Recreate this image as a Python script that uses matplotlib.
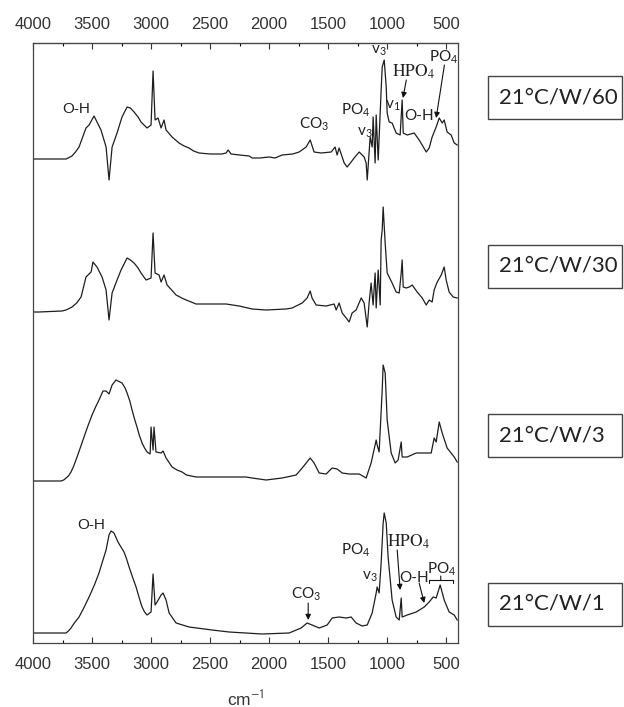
import numpy as np
import matplotlib
matplotlib.use("Agg")
import matplotlib.pyplot as plt
from matplotlib.patches import Rectangle

plt.rcParams['font.family'] = ['Liberation Sans', 'DejaVu Sans']
plt.rcParams['mathtext.fontset'] = 'custom'
plt.rcParams['mathtext.rm'] = 'Lato'
plt.rcParams['mathtext.it'] = 'Lato:italic'
plt.rcParams['mathtext.bf'] = 'Lato:bold'

# FTIR spectra, wavenumber (cm-1) and relative intensity (arbitrary units)
wn_60 = [4000, 3949, 3720, 3670, 3640, 3610, 3551, 3525, 3483, 3424, 3381, 3356, 3330, 3288, 3246, 3203,
         3175, 3144, 3110, 3085, 3034, 3000, 2983, 2966, 2941, 2915, 2890, 2873, 2822, 2763, 2720, 2678,
         2640, 2593, 2500, 2400, 2364, 2347, 2322, 2250, 2169, 2144, 2080, 2000, 1950, 1890, 1800, 1746,
         1686, 1652, 1619, 1559, 1474, 1441, 1424, 1407, 1381, 1364, 1339, 1305, 1280, 1237, 1195, 1178,
         1169, 1144, 1127, 1119, 1102, 1093, 1076, 1051, 1042, 1025, 1008, 1000, 983, 958, 924, 890,
         873, 864, 830, 771, 729, 669, 644, 619, 585, 559, 534, 517, 492, 458, 432, 407]
int_60 = [0, 0, 0, 3, 7, 12, 31, 34, 43, 29, 12, -21, 12, 26, 42, 52,
          51, 47, 42, 37, 31, 34, 88, 39, 41, 31, 39, 29, 22, 16, 13, 11,
          8, 6, 5, 5, 6, 9, 5, 4, 3, 1, 1, 2, 1, 4, 5, 7,
          12, 19, 7, 6, 7, 12, 4, 11, 2, -4, -8, -3, 1, 7, 2, -4,
          -21, 22, 12, 42, -4, 44, -1, 69, 92, 99, 72, 46, 37, 36, 26, 24,
          59, 26, 24, 26, 19, 7, 11, 22, 32, 41, 36, 39, 27, 24, 16, 14]

wn_30 = [4000, 3949, 3754, 3720, 3669, 3630, 3593, 3551, 3508, 3492, 3458, 3415, 3381, 3356, 3330, 3288,
         3254, 3203, 3175, 3144, 3110, 3085, 3042, 3000, 2983, 2966, 2932, 2915, 2890, 2864, 2788, 2740,
         2703, 2660, 2619, 2500, 2420, 2364, 2254, 2144, 2025, 1856, 1805, 1720, 1678, 1652, 1636, 1602,
         1517, 1449, 1432, 1407, 1381, 1347, 1322, 1297, 1263, 1220, 1195, 1169, 1153, 1136, 1119, 1102,
         1093, 1076, 1059, 1051, 1042, 1034, 1017, 1000, 983, 958, 924, 898, 881, 873, 864, 839,
         813, 788, 746, 703, 669, 644, 619, 602, 576, 542, 517, 500, 475, 441, 407]
int_30 = [0, 0, 1, 2, 5, 9, 15, 35, 40, 50, 45, 35, 22, -8, 19, 32,
          42, 54, 52, 49, 44, 39, 32, 34, 79, 39, 37, 30, 37, 27, 17, 14,
          12, 10, 8, 8, 8, 8, 6, 3, 2, 3, 4, 9, 14, 21, 14, 7,
          6, 8, 2, 9, -1, -6, -10, -1, 2, 14, 9, -15, 9, 29, 7, 39,
          4, 42, 7, 72, 82, 105, 69, 39, 35, 29, 20, 19, 39, 52, 25, 24,
          25, 27, 20, 14, 7, 12, 10, 22, 30, 37, 45, 32, 20, 15, 14]

wn_3 = [4000, 3763, 3740, 3720, 3700, 3678, 3655, 3627, 3600, 3568, 3535, 3500, 3470, 3441, 3407, 3381,
        3356, 3330, 3297, 3246, 3220, 3203, 3180, 3161, 3140, 3119, 3100, 3076, 3055, 3034, 3008, 3000,
        2983, 2975, 2958, 2915, 2898, 2873, 2850, 2822, 2780, 2737, 2700, 2619, 2195, 2144, 2025, 1890,
        1771, 1720, 1652, 1619, 1576, 1517, 1466, 1424, 1381, 1322, 1237, 1178, 1136, 1093, 1085, 1068,
        1042, 1034, 1017, 1000, 966, 932, 907, 881, 873, 830, 754, 627, 602, 585, 559, 534, 492, 432, 407]
int_3 = [0, 0, 1, 3, 5, 9, 15, 24, 33, 44, 55, 66, 74, 81, 90, 90,
         87, 96, 101, 98, 93, 88, 80, 71, 62, 54, 46, 38, 33, 29, 27, 54,
         31, 54, 29, 28, 30, 23, 19, 14, 11, 9, 6, 4, 4, 3, 1, 3,
         6, 13, 23, 18, 8, 7, 13, 12, 8, 7, 7, 3, 18, 41, 36, 29,
         91, 116, 108, 61, 28, 18, 21, 39, 24, 24, 28, 28, 43, 39, 59, 48, 33, 24, 19]

wn_1 = [4000, 3720, 3700, 3678, 3650, 3610, 3570, 3525, 3480, 3441, 3410, 3381, 3356, 3339, 3314, 3280,
        3260, 3229, 3210, 3186, 3160, 3127, 3100, 3076, 3055, 3034, 3000, 2983, 2966, 2949, 2915, 2898,
        2873, 2847, 2788, 2678, 2483, 2339, 2059, 1830, 1729, 1678, 1636, 1576, 1508, 1466, 1407, 1347,
        1305, 1263, 1212, 1169, 1127, 1093, 1085, 1068, 1051, 1034, 1025, 1008, 992, 958, 924, 898,
        881, 873, 830, 754, 686, 644, 610, 585, 551, 517, 475, 432, 407]
int_1 = [0, 0, 2, 5, 10, 16, 25, 36, 48, 60, 72, 83, 98, 102, 100, 91,
         87, 81, 75, 66, 57, 46, 35, 26, 21, 18, 21, 59, 28, 31, 38, 40,
         33, 20, 10, 6, 3, 1, -1, 0, 5, 10, 8, 5, 8, 15, 16, 15,
         16, 10, 7, 8, 20, 40, 46, 40, 70, 110, 120, 110, 76, 33, 16, 13,
         35, 16, 18, 21, 26, 31, 36, 35, 48, 33, 21, 18, 13]

spectra = [(wn_60, int_60), (wn_30, int_30), (wn_3, int_3), (wn_1, int_1)]
offsets = [484, 331, 162, 10]
sample_labels = ['21°C/W/60', '21°C/W/30', '21°C/W/3', '21°C/W/1']
major_ticks = [4000, 3500, 3000, 2500, 2000, 1500, 1000, 500]
minor_ticks = [3750, 3250, 2750, 2250, 1750, 1250, 750]

fig = plt.figure(figsize=(6.24, 7.07), dpi=100)
ax = fig.add_axes([33 / 624, 64 / 707, 425 / 624, 600 / 707])

for (wn, inten), off in zip(spectra, offsets):
    ax.plot(wn, np.array(inten) + off, color='#1e1e1e', lw=0.9)

ax.set_xlim(4000, 400)
ax.set_ylim(0, 600)
ax.set_yticks([])
ax.set_xticks(major_ticks)
ax.set_xticks(minor_ticks, minor=True)
ax.tick_params(axis='x', which='major', direction='in', length=4.5, width=0.8, pad=10,
               labelsize=12, colors='#333333')
ax.tick_params(axis='x', which='minor', direction='in', length=2.2, width=0.8)
for s in ax.spines.values():
    s.set_color('#444444')
    s.set_linewidth(0.9)

top = ax.secondary_xaxis('top')
top.set_xticks(major_ticks)
top.set_xticks(minor_ticks, minor=True)
top.tick_params(axis='x', which='major', direction='in', length=4.5, width=0.8, pad=8,
                labelsize=12, colors='#333333')
top.tick_params(axis='x', which='minor', direction='in', length=2.2, width=0.8)
top.spines['top'].set_color('#444444')

ax.set_xlabel('cm$^{-1}$', fontsize=12.5, color='#333333', labelpad=12, math_fontfamily='stixsans')

# peak annotations
sans = dict(fontsize=11, fontfamily='Lato', ha='center', va='center', color='#222222')
arial = dict(fontsize=11, fontfamily='Liberation Sans', ha='center', va='center', color='#222222')
serif = dict(fontsize=12.5, ha='center', va='center', color='#222222', math_fontfamily='stix')
arrow = dict(arrowstyle='-|>', color='#111111', lw=0.8, mutation_scale=8, shrinkA=0, shrinkB=0)

# top spectrum
ax.text(3636, 534, 'O-H', **arial)
ax.text(1619, 519, 'CO$_3$', **sans)
ax.text(1263, 533, 'PO$_4$', **sans)
ax.text(1186, 510, 'v$_3$', **sans)
ax.text(1068, 592, 'v$_3$', **sans)
ax.text(957, 537, 'v$_1$', **sans)
ax.text(780, 571, r'$\mathrm{HPO}_4$', **serif)
ax.annotate('', xy=(866, 545), xytext=(838, 563), arrowprops=arrow)
ax.text(729, 527, 'O-H', **sans)
ax.text(517, 586, 'PO$_4$', **sans)
ax.annotate('', xy=(585, 525), xytext=(515, 578), arrowprops=arrow)

# bottom spectrum
ax.text(3508, 118, 'O-H', **arial)
ax.text(1686, 49, 'CO$_3$', **sans)
ax.annotate('', xy=(1669, 23), xytext=(1669, 40), arrowprops=arrow)
ax.text(1263, 93, 'PO$_4$', **sans)
ax.text(1144, 66, 'v$_3$', **sans)
ax.text(822, 101, r'$\mathrm{HPO}_4$', **serif)
ax.annotate('', xy=(890, 53), xytext=(915, 93), arrowprops=arrow)
ax.text(771, 65, 'O-H', **sans)
ax.annotate('', xy=(686, 40), xytext=(729, 60), arrowprops=arrow)
ax.text(542, 74, 'PO$_4$', **sans)
ax.annotate('', xy=(546, 63), xytext=(546, 67),
            arrowprops=dict(arrowstyle='-[, widthB=0.85, lengthB=0.25', color='#111111', lw=0.8,
                            shrinkA=0, shrinkB=0))

# sample boxes on the right
for lab, cy in zip(sample_labels, [97, 266, 435, 604]):
    fig.patches.append(Rectangle((488 / 624, (707 - cy - 21.5) / 707), 134 / 624, 43 / 707,
                                 transform=fig.transFigure, fill=False, ec='#444444', lw=1.0))
    fig.text(499 / 624, (707 - cy) / 707, lab, fontsize=16, fontfamily='Lato',
             ha='left', va='center', color='#222222')

fig.savefig('out.png', dpi=100)
